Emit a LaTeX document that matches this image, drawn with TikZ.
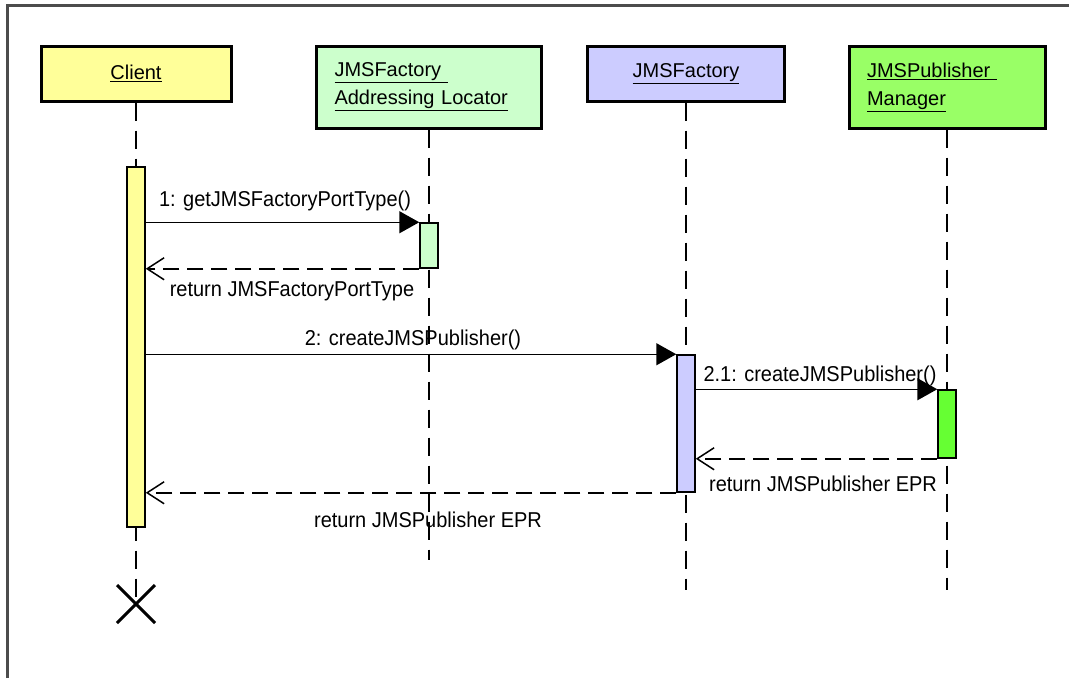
\documentclass[tikz,border=0pt]{standalone}
\usepackage{fontspec}
\setmainfont{Liberation Sans}
\newfontfamily\msgfont[FakeStretch=0.93]{Liberation Sans}
\usetikzlibrary{arrows.meta}

\definecolor{clientfill}{HTML}{FFFF99}
\definecolor{locatorfill}{HTML}{CCFFCC}
\definecolor{factoryfill}{HTML}{CCCCFF}
\definecolor{managerfill}{HTML}{99FF66}
\definecolor{managerbar}{HTML}{66FF33}

\tikzset{
  lifebox/.style={draw, line width=3pt, inner sep=0pt, minimum height=55pt,
    font=\fontsize{20}{28}\selectfont},
  tallbox/.style={lifebox, minimum height=82pt, align=left, inner xsep=18pt},
  actbar/.style={draw, line width=1.5pt, minimum width=18pt, inner sep=0pt},
  lifeline/.style={line width=1.5pt, dash pattern=on 18pt off 10pt},
  call/.style={line width=1.5pt, -{Triangle[length=20pt,width=22pt]}},
  reply/.style={line width=1.5pt, dash pattern=on 16pt off 8pt,
    -{Straight Barb[length=17pt,width=22pt]}},
  msglabel/.style={inner sep=0pt, font=\msgfont\fontsize{21.5}{24}\selectfont},
  endmark/.style={line width=3pt}
}

\begin{document}
\begin{tikzpicture}[x=1pt, y=-1pt]
\useasboundingbox (0,0) rectangle (1069,678);

% window frame
\draw[line width=3pt, black!70] (7,678) -- (7,5) -- (1069,5);

% participant boxes
\node[lifebox, fill=clientfill, minimum width=190pt] (client) at (136,73.5) {\underline{Client}};
\node[tallbox, fill=locatorfill, text width=189pt] (locator) at (429,87)
  {\underline{JMSFactory\ }\\\underline{Addressing Locator}};
\node[lifebox, fill=factoryfill, minimum width=197pt] (factory) at (686,73.5) {\underline{JMSFactory}};
\node[tallbox, fill=managerfill, text width=160pt] (manager) at (947,87)
  {\underline{JMSPublisher\ }\\\underline{Manager}};

% lifeline ends
\coordinate (clientend) at (136,604);
\coordinate (locatorend) at (429,560);
\coordinate (factoryend) at (686,590);
\coordinate (managerend) at (947,590);

% lifelines
\draw[lifeline] (client.south) -- (clientend);
\draw[lifeline] (locator.south) -- (locatorend);
\draw[lifeline] (factory.south) -- (factoryend);
\draw[lifeline] (manager.south) -- (managerend);

% destruction mark
\draw[endmark] ([shift={(-19pt,19pt)}]clientend) -- ([shift={(19pt,-19pt)}]clientend);
\draw[endmark] ([shift={(-19pt,-19pt)}]clientend) -- ([shift={(19pt,19pt)}]clientend);

% activation bars
\node[actbar, fill=clientfill, minimum height=360pt] (cbar) at (136,347) {};
\node[actbar, fill=locatorfill, minimum height=45pt] (lbar) at (429,245.5) {};
\node[actbar, fill=factoryfill, minimum height=137pt] (fbar) at (686,423.5) {};
\node[actbar, fill=managerbar, minimum height=68pt] (mbar) at (947,424) {};

% messages
\draw[call] (cbar.east |- lbar.north west) -- (lbar.north west);
\draw[reply] (lbar.south west) -- (cbar.east |- lbar.south west);
\draw[call] (cbar.east |- fbar.north west) -- (fbar.north west);
\draw[call] (fbar.east |- mbar.north west) -- (mbar.north west);
\draw[reply] (mbar.south west) -- (fbar.east |- mbar.south west);
\draw[reply] (fbar.south west) -- (cbar.east |- fbar.south west);

% message labels
\node[msglabel] (l1) at (285,201) {1: getJMSFactoryPortType()};
\node[msglabel] (l1r) at (292,291) {return JMSFactoryPortType};
\node[msglabel] (l2) at (413,340) {2: createJMSPublisher()};
\node[msglabel] (l21) at (820,376) {2.1: createJMSPublisher()};
\node[msglabel] (l21r) at (823,484) {return JMSPublisher EPR};
\node[msglabel] (l2r) at (428,520) {return JMSPublisher EPR};
\end{tikzpicture}
\end{document}
